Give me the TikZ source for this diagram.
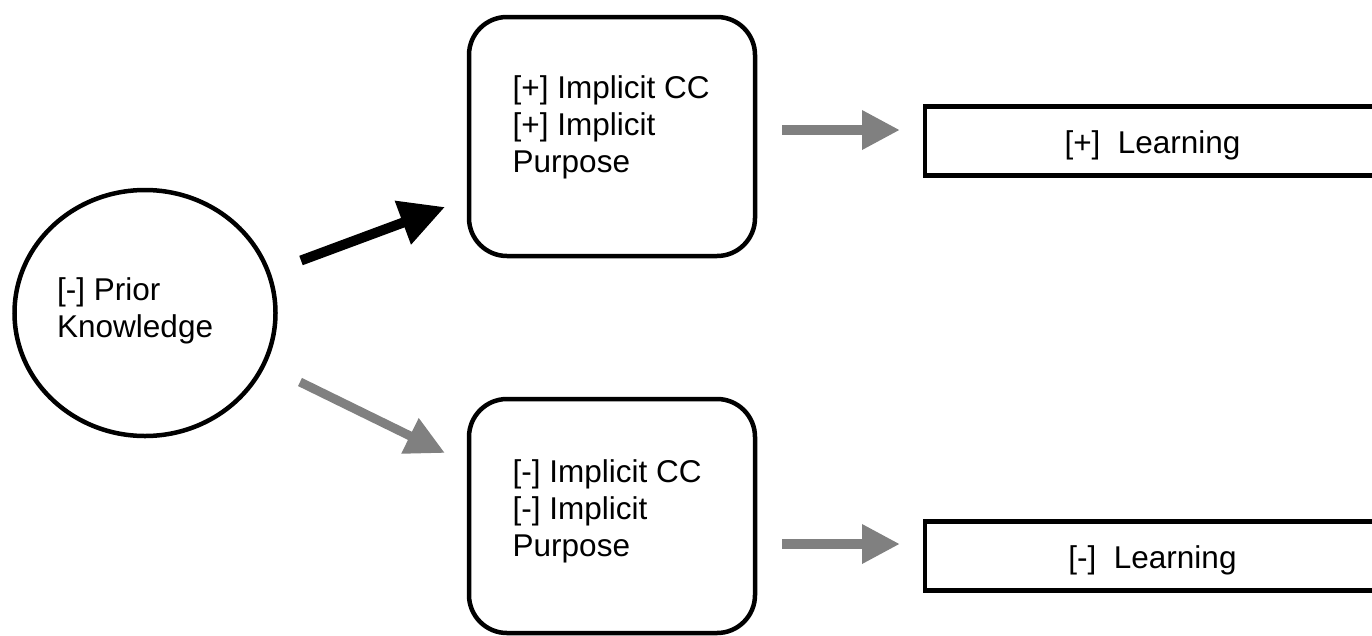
\documentclass[tikz,border=0pt]{standalone}
\usepackage{fontspec}
\setmainfont{Liberation Sans}
\usetikzlibrary{arrows.meta,shapes.geometric}
\definecolor{arrowgray}{HTML}{808080}
\tikzset{
  shapeline/.style={draw=black, line width=4.5pt, fill=none, inner sep=0pt},
  roundbox/.style={shapeline, rectangle, rounded corners=38pt, minimum width=286pt},
  learnbox/.style={shapeline, rectangle, minimum width=455pt, minimum height=69pt,
    font=\fontsize{31.5}{37}\selectfont, text height=30pt, text depth=6pt},
  label/.style={inner sep=0pt, align=left, anchor=base west, font=\fontsize{31.5}{37}\selectfont},
  blackarrow/.style={line width=10pt, draw=black, -{Triangle[length=45pt,width=44pt]}},
  grayarrow/.style={line width=10pt, draw=arrowgray, -{Triangle[length=38pt,width=37pt]}},
  graydiag/.style={line width=9pt, draw=arrowgray, -{Triangle[length=39pt,width=37pt]}},
}
\begin{document}
\begin{tikzpicture}[x=1pt,y=-1pt]
\useasboundingbox (0,0) rectangle (1372,635);
% shapes
\node[shapeline, ellipse, minimum width=261pt, minimum height=246pt] (pk) at (145,313) {};
\node[roundbox, minimum height=239pt] (top) at (612,136.5) {};
\node[roundbox, minimum height=234pt] (bot) at (612,516) {};
\node[learnbox] (lplus) at (1152.5,141) {[+]\ \ Learning};
\node[learnbox] (lminus) at (1152.5,556) {[-]\ \ Learning};
% texts (anchored at the baseline of the last line)
\node[label] (pktext) at (57,337) {[-] Prior\\Knowledge};
\node[label] (toptext) at (512.5,172) {[+] Implicit CC\\{}[+] Implicit\\Purpose};
\node[label] (bottext) at (512.5,556) {[-] Implicit CC\\{}[-] Implicit\\Purpose};
% arrow end points
\coordinate (a1s) at (301,260.5);
\coordinate (a1e) at (445,207);
\coordinate (a2s) at (300,382);
\coordinate (a2e) at (445,453);
\coordinate (a3s) at (782,130);
\coordinate (a3e) at (900,130);
\coordinate (a4s) at (782,544);
\coordinate (a4e) at (900,544);
% arrows
\draw[blackarrow] (a1s) -- (a1e);
\draw[graydiag] (a2s) -- (a2e);
\draw[grayarrow] (a3s) -- (a3e);
\draw[grayarrow] (a4s) -- (a4e);
\end{tikzpicture}
\end{document}
